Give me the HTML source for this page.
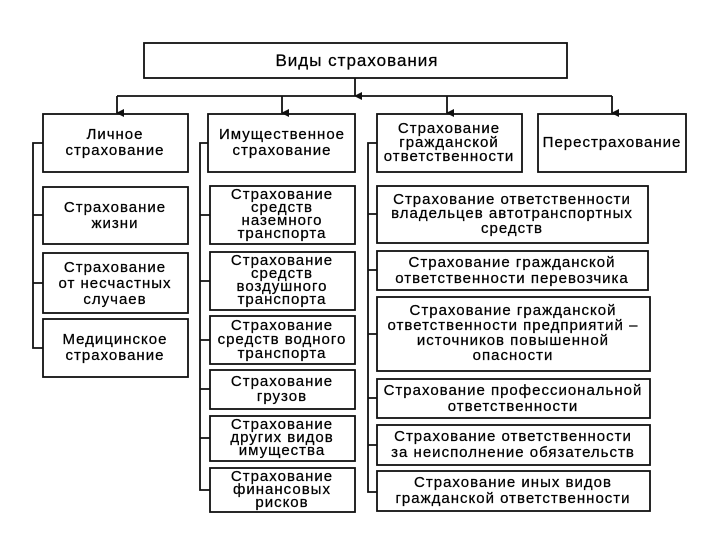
<!DOCTYPE html>
<html><head><meta charset="utf-8"><style>
html,body{margin:0;padding:0;background:#fff;}
svg{display:block;}
text{font-family:"Liberation Sans",sans-serif;font-size:15px;letter-spacing:1px;fill:#000;stroke:#000;stroke-width:0.25;text-anchor:middle;}
</style></head><body>
<svg width="720" height="540" viewBox="0 0 720 540" xmlns="http://www.w3.org/2000/svg">
<defs><marker id="a" markerWidth="8" markerHeight="8" refX="4" refY="7" orient="auto" markerUnits="userSpaceOnUse"><path d="M0,0 L8,0 L4,8 Z" fill="#111"/></marker></defs>
<g fill="none" stroke="#111" stroke-width="1.8">
<rect x="144" y="43" width="423" height="35"/>
<line x1="355" y1="78" x2="355" y2="96" marker-end="url(#a)"/>
<line x1="117" y1="96" x2="612" y2="96"/>
<line x1="117" y1="96" x2="117" y2="113" marker-end="url(#a)"/>
<line x1="282" y1="96" x2="282" y2="113" marker-end="url(#a)"/>
<line x1="447" y1="96" x2="447" y2="113" marker-end="url(#a)"/>
<line x1="612" y1="96" x2="612" y2="113" marker-end="url(#a)"/>
<rect x="43" y="114" width="145" height="58"/>
<rect x="43" y="187" width="145" height="57"/>
<rect x="43" y="253" width="145" height="60"/>
<rect x="43" y="319" width="145" height="58"/>
<path d="M43,143 H33 V348 H43 M33,215 H43 M33,283 H43"/>
<rect x="208" y="114" width="147" height="58"/>
<rect x="210" y="186" width="145" height="58"/>
<rect x="210" y="252" width="145" height="58"/>
<rect x="210" y="316" width="145" height="48"/>
<rect x="210" y="370" width="145" height="39"/>
<rect x="210" y="416" width="145" height="45"/>
<rect x="210" y="468" width="145" height="44"/>
<path d="M208,143 H200 V490 H210 M200,215 H210 M200,281 H210 M200,340 H210 M200,389 H210 M200,438 H210"/>
<rect x="377" y="114" width="145" height="58"/>
<rect x="538" y="114" width="148" height="58"/>
<rect x="377" y="186" width="271" height="57"/>
<rect x="377" y="251" width="271" height="39"/>
<rect x="377" y="297" width="273" height="74"/>
<rect x="377" y="379" width="273" height="39"/>
<rect x="377" y="425" width="273" height="40"/>
<rect x="377" y="471" width="273" height="40"/>
<path d="M377,143 H368 V492 H377 M368,214 H377 M368,270 H377 M368,334 H377 M368,398 H377 M368,445 H377"/>
</g>
<text x="357" y="66" style="font-size:17px">Виды страхования</text>
<text x="115" y="139">Личное</text><text x="115" y="155">страхование</text>
<text x="115" y="212">Страхование</text><text x="115" y="228">жизни</text>
<text x="115" y="272">Страхование</text><text x="115" y="288">от несчастных</text><text x="115" y="304">случаев</text>
<text x="115" y="344">Медицинское</text><text x="115" y="360">страхование</text>
<text x="282" y="139">Имущественное</text><text x="282" y="155">страхование</text>
<text x="282" y="199">Страхование</text><text x="282" y="212">средств</text><text x="282" y="225">наземного</text><text x="282" y="238">транспорта</text>
<text x="282" y="265">Страхование</text><text x="282" y="278">средств</text><text x="282" y="291">воздушного</text><text x="282" y="304">транспорта</text>
<text x="282" y="330">Страхование</text><text x="282" y="344">средств водного</text><text x="282" y="358">транспорта</text>
<text x="282" y="386">Страхование</text><text x="282" y="401">грузов</text>
<text x="282" y="429">Страхование</text><text x="282" y="442">других видов</text><text x="282" y="455">имущества</text>
<text x="282" y="481">Страхование</text><text x="282" y="494">финансовых</text><text x="282" y="507">рисков</text>
<text x="449" y="133">Страхование</text><text x="449" y="147">гражданской</text><text x="449" y="161">ответственности</text>
<text x="612" y="147">Перестрахование</text>
<text x="512" y="204">Страхование ответственности</text><text x="512" y="218">владельцев автотранспортных</text><text x="512" y="233">средств</text>
<text x="512" y="267">Страхование гражданской</text><text x="512" y="283">ответственности перевозчика</text>
<text x="513" y="315">Страхование гражданской</text><text x="513" y="330">ответственности предприятий –</text><text x="513" y="345">источников повышенной</text><text x="513" y="360">опасности</text>
<text x="513" y="395">Страхование профессиональной</text><text x="513" y="411">ответственности</text>
<text x="513" y="441">Страхование ответственности</text><text x="513" y="457">за неисполнение обязательств</text>
<text x="513" y="487">Страхование иных видов</text><text x="513" y="503">гражданской ответственности</text>
</svg>
</body></html>
